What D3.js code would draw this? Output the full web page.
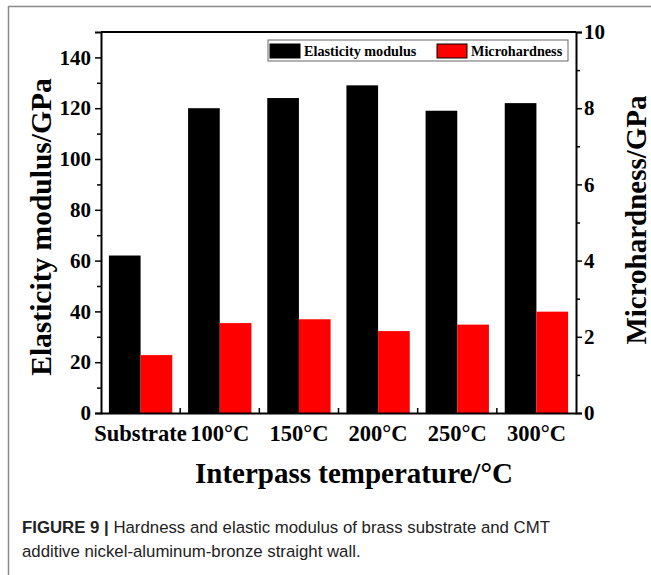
<!DOCTYPE html>
<html>
<head>
<meta charset="utf-8">
<script src="https://cdn.jsdelivr.net/npm/d3@7"></script>
<style>
  body { margin: 0; background: #fff; }
  svg text { font-family: "Liberation Serif", "Times New Roman", serif; font-weight: bold; }
  .cap { font-family: "Liberation Sans", Arial, sans-serif; }
</style>
</head>
<body>
<svg id="chart"></svg>
<script>
// data
var categories = ['Substrate', '100\u00b0C', '150\u00b0C', '200\u00b0C', '250\u00b0C', '300\u00b0C'];
var modulus = [62, 120, 124, 129, 119, 122];          // GPa, left axis
var hardness = [1.52, 2.36, 2.46, 2.15, 2.32, 2.66];   // GPa, right axis
var leftTicks = [0, 20, 40, 60, 80, 100, 120, 140];
var rightTicks = [0, 2, 4, 6, 8, 10];

var width = 651, height = 575;
var plotL = 101, plotR = 576, plotT = 32, plotB = 413;

var svg = d3.select('#chart')
    .attr('width', width)
    .attr('height', height);

// thin grey frame of the figure panel
svg.append('line').attr('x1', 8).attr('y1', 6.5).attr('x2', width).attr('y2', 6.5)
    .attr('stroke', '#8a8a8a').attr('stroke-width', 1.5);
svg.append('line').attr('x1', 8.5).attr('y1', 6).attr('x2', 8.5).attr('y2', height)
    .attr('stroke', '#8a8a8a').attr('stroke-width', 1.5);

var x = d3.scaleBand().domain(categories).range([plotL, plotR])
    .paddingInner(0.2).paddingOuter(0.1);
var yL = d3.scaleLinear().domain([0, 150]).range([plotB, plotT]);
var yR = d3.scaleLinear().domain([0, 10]).range([plotB, plotT]);
var half = x.bandwidth() / 2;

// bars
svg.selectAll('rect.mod')
    .data(modulus)
    .enter()
    .append('rect')
    .attr('class', 'mod')
    .attr('x', function (d, i) { return x(categories[i]); })
    .attr('y', function (d) { return yL(d); })
    .attr('width', half)
    .attr('height', function (d) { return plotB - yL(d); })
    .attr('fill', '#000');

svg.selectAll('rect.hard')
    .data(hardness)
    .enter()
    .append('rect')
    .attr('class', 'hard')
    .attr('x', function (d, i) { return x(categories[i]) + half; })
    .attr('y', function (d) { return yR(d); })
    .attr('width', half)
    .attr('height', function (d) { return plotB - yR(d); })
    .attr('fill', '#ff0000');

// left axis
var axL = svg.append('g').attr('transform', 'translate(' + plotL + ',0)')
    .call(d3.axisLeft(yL).tickValues(leftTicks).tickSize(6).tickPadding(4));
svg.append('g').attr('transform', 'translate(' + plotL + ',0)')
    .call(d3.axisLeft(yL).tickValues(d3.range(10, 150, 20)).tickSize(4).tickFormat(''))
    .select('.domain').remove();

// right axis
var axR = svg.append('g').attr('transform', 'translate(' + plotR + ',0)')
    .call(d3.axisRight(yR).tickValues(rightTicks).tickSize(6).tickPadding(2));
svg.append('g').attr('transform', 'translate(' + plotR + ',0)')
    .call(d3.axisRight(yR).tickValues([1, 3, 5, 7, 9]).tickSize(4).tickFormat(''))
    .select('.domain').remove();

// bottom axis, ticks sit between groups pointing inward
var axB = svg.append('g').attr('transform', 'translate(0,' + plotB + ')')
    .call(d3.axisBottom(x).tickSize(0).tickPadding(12));
axB.selectAll('.tick line').remove();
svg.selectAll('line.sep')
    .data(categories.slice(1))
    .enter()
    .append('line')
    .attr('class', 'sep')
    .attr('x1', function (d) { return x(d) - x.step() * 0.1; })
    .attr('x2', function (d) { return x(d) - x.step() * 0.1; })
    .attr('y1', plotB)
    .attr('y2', plotB - 5)
    .attr('stroke', '#000')
    .attr('stroke-width', 1.5);

// top border of the plot box
svg.append('line').attr('x1', plotL).attr('x2', plotR).attr('y1', plotT).attr('y2', plotT)
    .attr('stroke', '#000').attr('stroke-width', 2);

svg.selectAll('.domain').attr('stroke-width', 2);
svg.selectAll('.tick line').attr('stroke-width', 1.5);
axL.selectAll('.tick text').style('font-size', '21px').attr('fill', '#000');
axR.selectAll('.tick text').style('font-size', '21px').attr('fill', '#000');
axB.selectAll('.tick text').style('font-size', '22.5px').attr('fill', '#000').attr('dy', '0.71em');

// legend
var leg = svg.append('g');
leg.append('rect').attr('x', 268).attr('y', 40).attr('width', 300).attr('height', 21)
    .attr('fill', '#fff').attr('stroke', '#666').attr('stroke-width', 1);
var items = [['Elasticity modulus', '#000', 270], ['Microhardness', '#ff0000', 437]];
leg.selectAll('rect.sw')
    .data(items)
    .enter()
    .append('rect')
    .attr('class', 'sw')
    .attr('x', function (d) { return d[2]; })
    .attr('y', 44)
    .attr('width', 30)
    .attr('height', 14)
    .attr('fill', function (d) { return d[1]; })
    .attr('stroke', '#000')
    .attr('stroke-width', 1);
leg.selectAll('text')
    .data(items)
    .enter()
    .append('text')
    .attr('x', function (d) { return d[2] + 34; })
    .attr('y', 56)
    .style('font-size', '14.2px')
    .text(function (d) { return d[0]; });

// axis titles
svg.append('text')
    .attr('transform', 'translate(51,227) rotate(-90)')
    .attr('text-anchor', 'middle')
    .style('font-size', '29.5px')
    .text('Elasticity modulus/GPa');
svg.append('text')
    .attr('transform', 'translate(646,220) rotate(-90)')
    .attr('text-anchor', 'middle')
    .style('font-size', '29px')
    .text('Microhardness/GPa');
svg.append('text')
    .attr('x', 354)
    .attr('y', 483)
    .attr('text-anchor', 'middle')
    .style('font-size', '29px')
    .text('Interpass temperature/\u00b0C');

// caption
var cap = svg.append('text').attr('class', 'cap').attr('x', 22).attr('y', 533)
    .style('font-size', '16.8px').style('font-weight', 'normal').attr('fill', '#222');
cap.append('tspan').style('font-weight', 'bold').text('FIGURE 9 | ');
cap.append('tspan').text('Hardness and elastic modulus of brass substrate and CMT');
svg.append('text').attr('class', 'cap').attr('x', 22).attr('y', 557)
    .style('font-size', '16.8px').style('font-weight', 'normal').attr('fill', '#222')
    .text('additive nickel-aluminum-bronze straight wall.');
</script>
</body>
</html>
